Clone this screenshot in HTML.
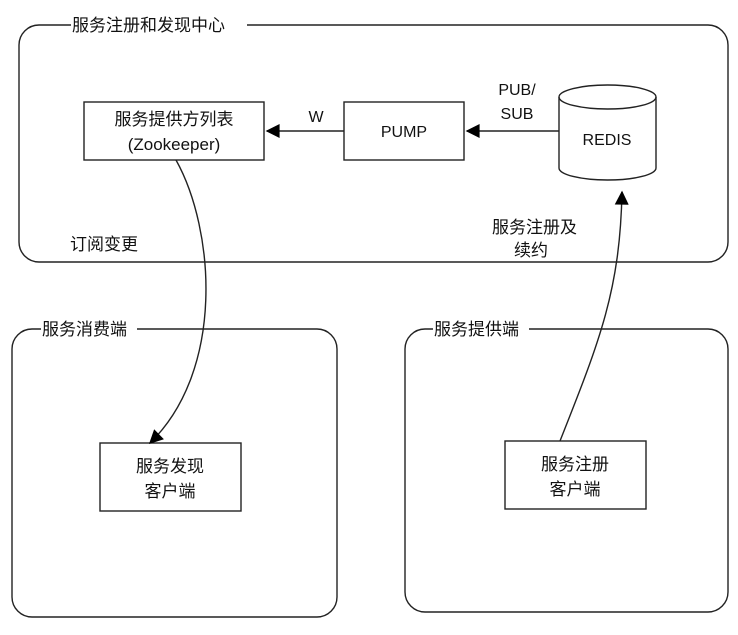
<!DOCTYPE html>
<html><head><meta charset="utf-8"><style>
body{margin:0;background:#fff;}
svg text{font-family:"Liberation Sans","Noto Sans CJK SC",sans-serif;fill:#111;}
</style></head><body>
<svg width="738" height="630" viewBox="0 0 738 630" xmlns="http://www.w3.org/2000/svg">
<defs><marker id="a" viewBox="0 0 10 10" refX="9" refY="5" markerWidth="16" markerHeight="14" markerUnits="userSpaceOnUse" orient="auto"><path d="M0,0 L10,5 L0,10 z" fill="#000"/></marker></defs>
<g fill="none" stroke="#222" stroke-width="1.4">
<rect x="19" y="25" width="709" height="237" rx="20"/>
<rect x="12" y="329" width="325" height="288" rx="20"/>
<rect x="405" y="329" width="323" height="283" rx="20"/>
<rect x="84" y="102" width="180" height="58"/>
<rect x="344" y="102" width="120" height="58"/>
<rect x="100" y="443" width="141" height="68"/>
<rect x="505" y="441" width="141" height="68"/>
<path d="M559,97 L559,168 A48.5,12 0 0 0 656,168 L656,97"/>
<ellipse cx="607.5" cy="97" rx="48.5" ry="12"/>
<line x1="344" y1="131" x2="267" y2="131" marker-end="url(#a)"/>
<line x1="559" y1="131" x2="467" y2="131" marker-end="url(#a)"/>
<path d="M176,160 C215,230 225,370 150,443" marker-end="url(#a)"/>
<path d="M560,441 C600,340 620,290 622,192" marker-end="url(#a)"/>
</g>
<g fill="#fff">
<rect x="71" y="15" width="176" height="20"/>
<rect x="41" y="319" width="96" height="20"/>
<rect x="433" y="319" width="96" height="20"/>
</g>
<g font-size="17">
<text x="72" y="31">服务注册和发现中心</text>
<text x="42" y="335">服务消费端</text>
<text x="434" y="335">服务提供端</text>
<text x="174" y="125" text-anchor="middle">服务提供方列表</text>
<text x="174" y="150" text-anchor="middle">(Zookeeper)</text>
<text x="404" y="137" text-anchor="middle" font-size="16">PUMP</text>
<text x="607" y="145" text-anchor="middle" font-size="16">REDIS</text>
<text x="316" y="122" text-anchor="middle" font-size="16">W</text>
<text x="517" y="95" text-anchor="middle" font-size="16">PUB/</text>
<text x="517" y="119" text-anchor="middle" font-size="16">SUB</text>
<text x="70" y="250">订阅变更</text>
<text x="492" y="233">服务注册及</text>
<text x="514" y="256">续约</text>
<text x="170" y="472" text-anchor="middle">服务发现</text>
<text x="170" y="497" text-anchor="middle">客户端</text>
<text x="575" y="470" text-anchor="middle">服务注册</text>
<text x="575" y="495" text-anchor="middle">客户端</text>
</g>
</svg>
</body></html>
